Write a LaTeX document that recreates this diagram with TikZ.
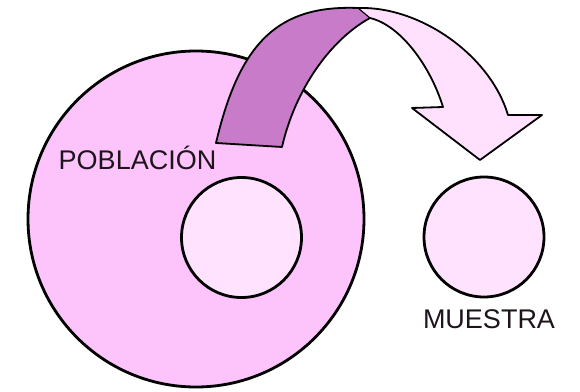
\documentclass[tikz,border=0pt]{standalone}
\usepackage{fontspec}
\setmainfont{Liberation Sans}
\usepackage{tikz}
\usetikzlibrary{positioning}
\definecolor{popfill}{HTML}{FDC4FB}
\definecolor{samplefill}{HTML}{FFE2FD}
\definecolor{band}{HTML}{C77BC9}
\definecolor{arrowfill}{HTML}{FFE1FE}
\definecolor{ink}{HTML}{1E141C}
\tikzset{ring/.style={circle,draw=black,line width=2.8pt,inner sep=0pt},
  biglabel/.style={font=\fontsize{27}{30}\selectfont,text=ink,inner sep=0pt,anchor=base},
  ribbon/.style={draw=black,line width=1.8pt,line join=round}}
\begin{document}
\begin{tikzpicture}[x=1pt,y=1pt]
\useasboundingbox (0,0) rectangle (580,391);
\node[ring,fill=popfill,minimum size=336pt] (pob) at (196,172) {};
\node[ring,fill=samplefill,minimum size=120pt] (sub) at (241.5,153.5) {};
% curved arrow: dark back of the ribbon, then light head
\fill[band] (216,248) .. controls (240,351) and (280,386) .. (358,383) -- (370,373) .. controls (330,351) and (295,301) .. (282,244) -- cycle;
\fill[arrowfill] (358,383) .. controls (420,385) and (490,336) .. (508,276) -- (542,276) -- (480,231) -- (412,283) -- (443,284) .. controls (430,326) and (400,366) .. (370,373) -- cycle;
\draw[ribbon] (216,248) .. controls (240,351) and (280,386) .. (358,383) .. controls (420,385) and (490,336) .. (508,276) -- (542,276) -- (480,231) -- (412,283) -- (443,284) .. controls (430,326) and (400,366) .. (370,373) .. controls (330,351) and (295,301) .. (282,244) -- cycle;
\draw[ribbon,line width=1.2pt] (358,383) -- (370,373);
\node[ring,fill=samplefill,minimum size=120pt] (mues) at (484,154) {};
\node[biglabel] (poblab) at (137.5,221) {POBLACIÓN};
\node[biglabel] (mueslab) at (489,63) {MUESTRA};
\end{tikzpicture}
\end{document}
